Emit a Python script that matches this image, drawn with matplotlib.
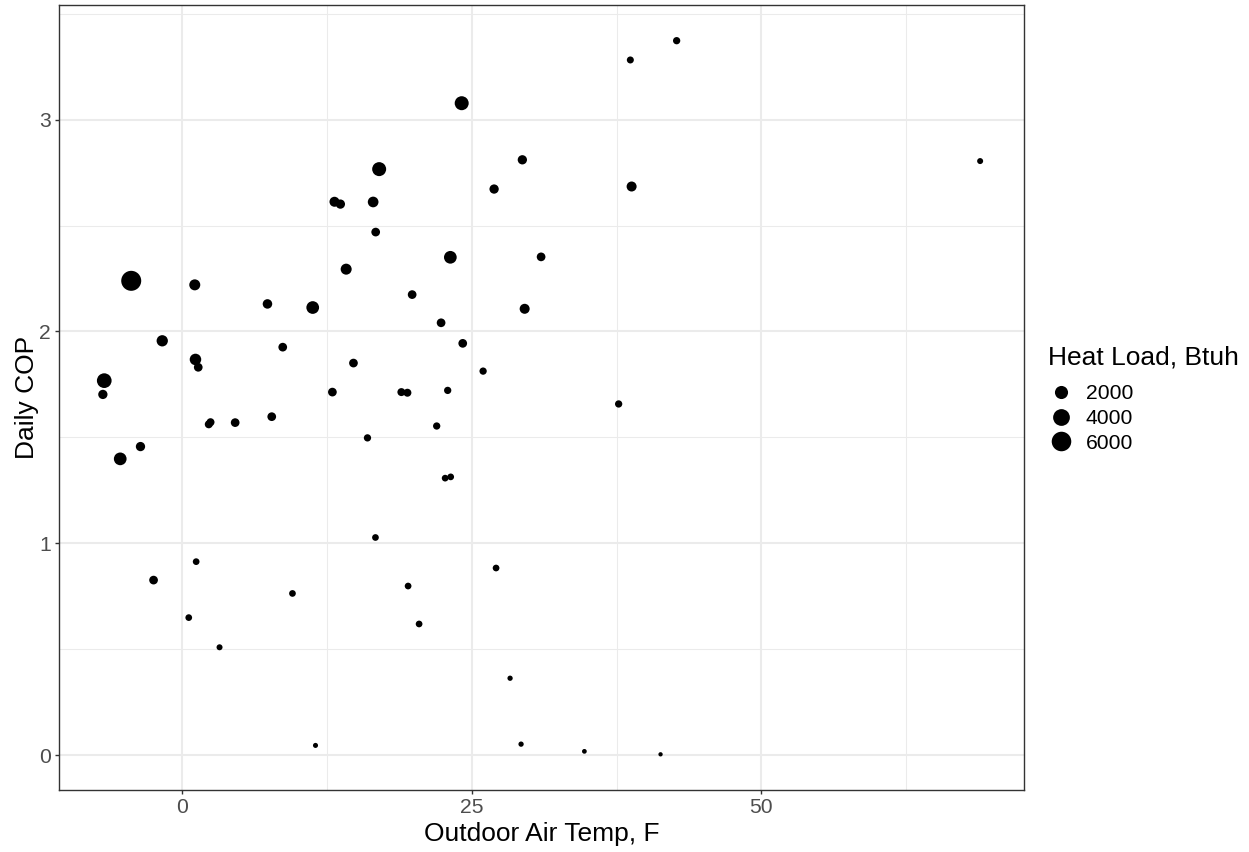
import numpy as np
import matplotlib
matplotlib.use("Agg")
import matplotlib.pyplot as plt
from matplotlib.lines import Line2D
from matplotlib.ticker import MultipleLocator

plt.rcParams["font.family"] = ["Liberation Sans", "DejaVu Sans"]

# Daily observations
outdoor_temp_f = [
    42.69, 38.69, 24.12, 68.91, 29.36, 16.99, 26.92, 38.80, 13.13, 13.64,
    16.47, 16.69, -4.43, 14.14, 23.14, 30.98, 1.06, 7.34, 11.25, 19.84,
    29.56, 22.34, -1.75, 8.66, 24.21, -6.76, -6.88, 1.12, 1.36, 14.77,
    25.97, 12.95, 18.91, 19.43, 22.91, 2.27, 2.42, 4.55, 7.71, 37.68,
    21.96, 15.98, -3.63, -5.38, 22.69, 23.17, 16.67, 1.18, -2.50, 9.50,
    19.49, 27.09, 0.54, 20.44, 3.20, 28.30, 29.25, 34.72, 41.30, 11.49,
]
daily_cop = [
    3.372, 3.281, 3.077, 2.804, 2.810, 2.766, 2.672, 2.684, 2.612, 2.601,
    2.611, 2.469, 2.239, 2.294, 2.350, 2.352, 2.220, 2.130, 2.113, 2.174,
    2.107, 2.041, 1.956, 1.926, 1.944, 1.768, 1.703, 1.868, 1.831, 1.851,
    1.813, 1.714, 1.714, 1.711, 1.722, 1.562, 1.572, 1.570, 1.598, 1.658,
    1.554, 1.498, 1.457, 1.399, 1.308, 1.314, 1.028, 0.914, 0.827, 0.764,
    0.799, 0.884, 0.650, 0.620, 0.510, 0.364, 0.053, 0.019, 0.005, 0.047,
]
heat_load_btuh = [
    230, 190, 2420, 75, 640, 2420, 640, 840, 840, 640,
    1050, 500, 6350, 1160, 1820, 500, 1160, 700, 1820, 500,
    840, 500, 1260, 500, 500, 2790, 640, 1340, 500, 500,
    230, 500, 350, 350, 230, 350, 350, 500, 500, 230,
    230, 230, 640, 1820, 150, 150, 150, 150, 500, 150,
    150, 150, 150, 150, 75, 25, 25, 5, 0, 15,
]
legend_breaks = [2000, 4000, 6000]
legend_labels = ["2000", "4000", "6000"]

DPI = 100
W, H = 1249, 852


def marker_diameter_pt(load):
    # diameter grows with the square root of the load (area scale)
    d_px = 4.3 + 0.197 * np.sqrt(np.asarray(load, dtype=float))
    return d_px * 72.0 / DPI


fig = plt.figure(figsize=(W / DPI, H / DPI), dpi=DPI)
ax = fig.add_axes([59 / W, (H - 790) / H, (1024 - 59) / W, (790 - 5) / H])

sizes = marker_diameter_pt(heat_load_btuh) ** 2
ax.scatter(outdoor_temp_f, daily_cop, s=sizes, c="black", edgecolors="none", zorder=3)
ax.margins(0.05)

# theme: white panel, light grid, dark border
ax.set_facecolor("white")
ax.xaxis.set_major_locator(MultipleLocator(25))
ax.xaxis.set_minor_locator(MultipleLocator(12.5))
ax.yaxis.set_major_locator(MultipleLocator(1))
ax.yaxis.set_minor_locator(MultipleLocator(0.5))
ax.grid(which="major", color="#EBEBEB", linewidth=1.5, zorder=0)
ax.grid(which="minor", color="#EBEBEB", linewidth=0.75, zorder=0)
ax.set_axisbelow(True)
for sp in ax.spines.values():
    sp.set_color("#333333")
    sp.set_linewidth(1.0)
ax.tick_params(which="major", length=3.2, width=1.0, color="#333333",
               labelsize=15.2, labelcolor="#4D4D4D", pad=2.5)
ax.tick_params(which="minor", length=0)

ax.set_xlabel("Outdoor Air Temp, F", fontsize=19, color="black", labelpad=4)
ax.set_ylabel("Daily COP", fontsize=19, color="black", labelpad=0)

# size legend
fig.text(1048 / W, 1 - 357 / H, "Heat Load, Btuh", fontsize=19,
         ha="left", va="center", color="black")
handles = [
    Line2D([], [], linestyle="none", marker="o", color="black",
           markeredgewidth=0, markersize=float(marker_diameter_pt(v)))
    for v in legend_breaks
]
fig.legend(handles, legend_labels, loc="upper left",
           bbox_to_anchor=(1048 / W, 1 - 384 / H),
           frameon=False, fontsize=15.2,
           labelspacing=0.28, handlelength=1.2, handletextpad=0.6,
           borderpad=0, borderaxespad=0)

fig.savefig("out.png", dpi=DPI, facecolor="white")
